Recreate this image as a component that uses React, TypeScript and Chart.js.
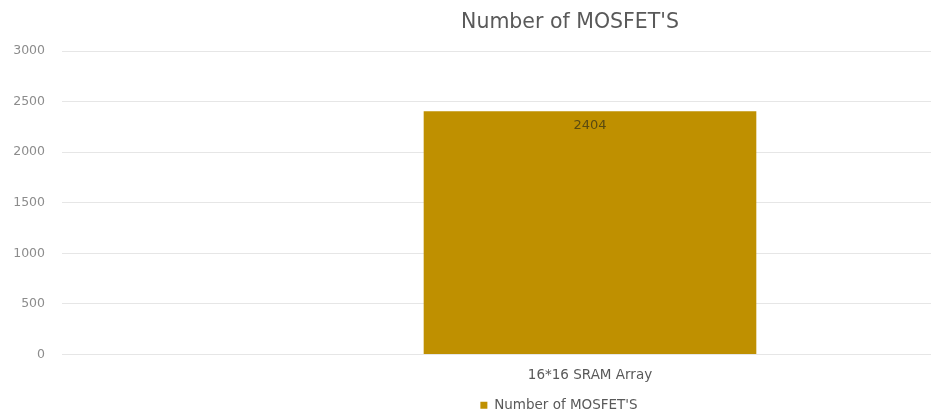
import React, { useEffect, useRef } from "react";
import { Chart, registerables } from "chart.js";

Chart.register(...registerables);

const categories = ["16*16 SRAM Array"];
const seriesName = "Number of MOSFET'S";
const chartTitle = "Number of MOSFET'S";
const seriesValues = [2404];
const yTicks = [0, 500, 1000, 1500, 2000, 2500, 3000];

const FONT = "'DejaVu Sans', 'Noto Sans', sans-serif";
// the visible picture is the left part of a wider Excel chart frame
const FRAME_EXTRA_LEFT = 22;

const frameCenter = (chart: any) => (chart.chartArea.right + FRAME_EXTRA_LEFT) / 2;

const dataLabelPlugin = {
  id: "dataLabelInside",
  afterDatasetsDraw(chart: any) {
    const ctx = chart.ctx;
    const meta = chart.getDatasetMeta(0);
    ctx.save();
    ctx.font = `13px ${FONT}`;
    ctx.fillStyle = "#5a4a10";
    ctx.textAlign = "center";
    ctx.textBaseline = "top";
    meta.data.forEach((bar: any, i: number) => {
      const v = chart.data.datasets[0].data[i];
      ctx.fillText(String(v), bar.x, bar.y + 8);
    });
    ctx.restore();
  },
};

const titlePlugin = {
  id: "frameTitle",
  beforeDraw(chart: any) {
    const lg = chart.legend;
    if (lg && lg.legendHitBoxes && typeof lg.adjustHitBoxes === "function") {
      lg.adjustHitBoxes();
      const shift = frameCenter(chart) - chart.width / 2;
      lg.legendHitBoxes.forEach((b: any) => {
        b.left += shift;
      });
    }
  },
  afterDraw(chart: any) {
    const ctx = chart.ctx;
    ctx.save();
    ctx.font = `20.5px ${FONT}`;
    ctx.fillStyle = "#595959";
    ctx.textAlign = "center";
    ctx.textBaseline = "middle";
    ctx.fillText(chartTitle, frameCenter(chart), 23);
    ctx.restore();
  },
};

export default function App() {
  const ref = useRef<HTMLCanvasElement | null>(null);
  useEffect(() => {
    if (!ref.current) return;
    const chart = new Chart(ref.current, {
      type: "bar",
      data: {
        labels: categories,
        datasets: [
          {
            label: seriesName,
            data: seriesValues,
            backgroundColor: "#BF9000",
            borderWidth: 0,
            categoryPercentage: 1,
            barPercentage: 0.315,
          },
        ],
      },
      options: {
        responsive: false,
        animation: false,
        layout: { padding: { left: 0, right: 0, top: 51, bottom: -10 } },
        plugins: {
          title: { display: false },
          legend: {
            display: true,
            position: "bottom",
            labels: {
              color: "#595959",
              font: { family: FONT, size: 13.5 },
              boxWidth: 7,
              boxHeight: 7,
              padding: 2,
            },
          },
          tooltip: { enabled: false },
        },
        scales: {
          x: {
            grid: { display: false },
            border: { display: false },
            ticks: {
              color: "#595959",
              font: { family: FONT, size: 13.5 },
              padding: 5,
            },
            afterFit(scale: any) {
              scale.height = 42;
            },
          },
          y: {
            min: 0,
            max: 3000,
            afterBuildTicks(scale: any) {
              scale.ticks = yTicks.map((v) => ({ value: v }));
            },
            grid: { color: "#e6e6e6", drawTicks: false },
            border: { display: false },
            ticks: {
              color: "#8c8c8c",
              font: { family: FONT, size: 12.5 },
              padding: 17,
              callback: (v: any) => String(v),
            },
            afterFit(scale: any) {
              scale.width = 62;
            },
          },
        },
      },
      plugins: [dataLabelPlugin, titlePlugin],
    });
    return () => chart.destroy();
  }, []);
  return (
    <div
      style={{
        position: "fixed",
        left: 0,
        top: 0,
        width: 931,
        height: 412,
        overflow: "hidden",
        background: "#ffffff",
      }}
    >
      <canvas ref={ref} width={1118} height={412} style={{ display: "block" }} />
    </div>
  );
}
